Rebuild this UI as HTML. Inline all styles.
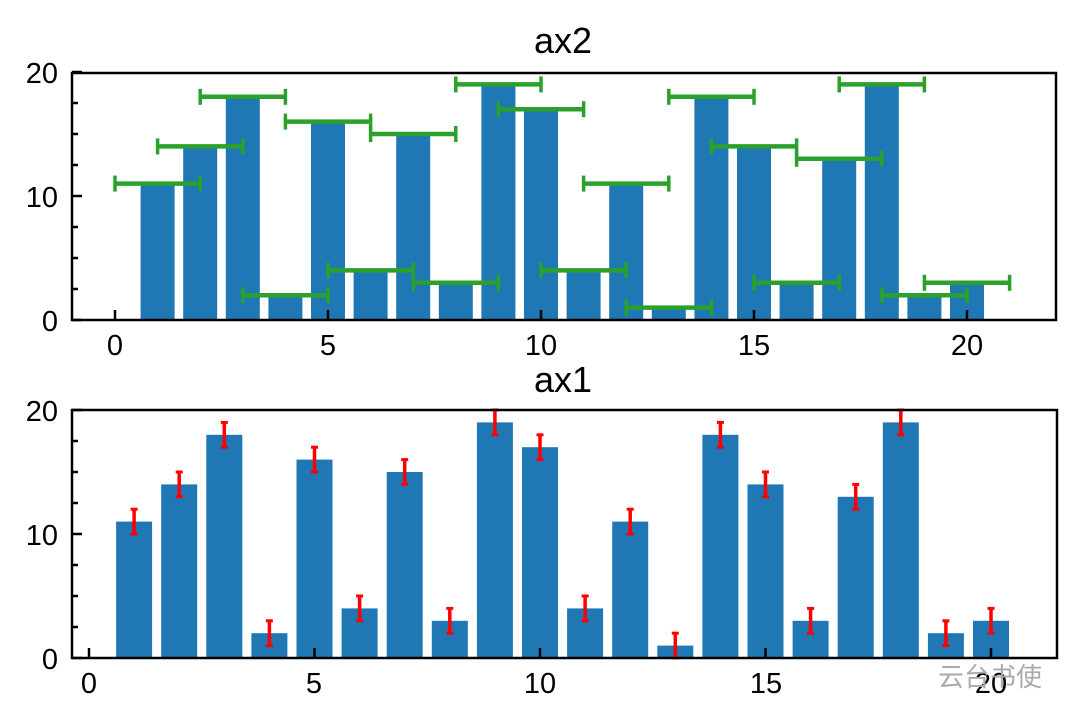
<!DOCTYPE html>
<html><head><meta charset="utf-8"><style>
html,body{margin:0;padding:0;background:#fff;}
svg text{font-family:"Liberation Sans","DejaVu Sans",sans-serif;fill:#000;}
</style></head><body>
<svg id="s" width="1080" height="722" xmlns="http://www.w3.org/2000/svg">
<g id="g"></g>
<g style="font-size:36px">
<text x="563" y="53" text-anchor="middle">ax2</text>
<text x="563" y="392" text-anchor="middle">ax1</text>
</g>
<g style="font-size:29px">
<text x="115" y="355" text-anchor="middle">0</text>
<text x="328" y="355" text-anchor="middle">5</text>
<text x="541" y="355" text-anchor="middle">10</text>
<text x="754" y="355" text-anchor="middle">15</text>
<text x="967" y="355" text-anchor="middle">20</text>
<text x="58" y="331" text-anchor="end">0</text>
<text x="58" y="207" text-anchor="end">10</text>
<text x="58" y="83" text-anchor="end">20</text>
<text x="89" y="693" text-anchor="middle">0</text>
<text x="314" y="693" text-anchor="middle">5</text>
<text x="540" y="693" text-anchor="middle">10</text>
<text x="766" y="693" text-anchor="middle">15</text>
<text x="991" y="693" text-anchor="middle">20</text>
<text x="58" y="669" text-anchor="end">0</text>
<text x="58" y="545" text-anchor="end">10</text>
<text x="58" y="421" text-anchor="end">20</text>
</g>
<text x="938" y="686" style="fill:#aaa;font-size:26px;font-family:'Liberation Sans','Noto Sans CJK SC',sans-serif">云台书使</text>
</svg>
<script>
var v=[11,14,18,2,16,4,15,3,19,17,4,11,1,18,14,3,13,19,2,3];
var h='';
function L(x1,y1,x2,y2,c,w){h+='<line x1="'+x1+'" y1="'+y1+'" x2="'+x2+'" y2="'+y2+'" stroke="'+c+'" stroke-width="'+w+'"/>';}
var tx=function(x){return 115+42.6*x}, ty=function(y){return 320-12.4*y};
v.forEach(function(y,i){var x=i+1;h+='<rect x="'+(tx(x)-17)+'" y="'+ty(y)+'" width="34" height="'+(12.4*y)+'" fill="#1f77b4"/>';});
v.forEach(function(y,i){var x=i+1;L(tx(x-1),ty(y),tx(x+1),ty(y),'#2ca02c',4.5);L(tx(x-1),ty(y)-8,tx(x-1),ty(y)+8,'#2ca02c',3.5);L(tx(x+1),ty(y)-8,tx(x+1),ty(y)+8,'#2ca02c',3.5);});
h+='<rect x="72" y="73" width="984" height="247" fill="none" stroke="#000" stroke-width="2.5"/>';
for(var i=0;i<=20;i+=5){L(tx(i),320,tx(i),310,'#000',2.5);}
for(var i=0;i<=20;i+=2.5){var len=(i%10==0)?10:6;L(72,ty(i),72+len,ty(i),'#000',2.5);}
var bx=function(x){return 89+45.1*x}, by=function(y){return 658-12.4*y};
v.forEach(function(y,i){var x=i+1;h+='<rect x="'+(bx(x)-18)+'" y="'+by(y)+'" width="36" height="'+(12.4*y)+'" fill="#1f77b4"/>';});
v.forEach(function(y,i){var x=i+1;L(bx(x),by(y+1),bx(x),by(y-1),'red',3.5);L(bx(x)-3.5,by(y+1),bx(x)+3.5,by(y+1),'red',3);L(bx(x)-3.5,by(y-1),bx(x)+3.5,by(y-1),'red',3);});
h+='<rect x="72" y="410" width="985" height="248" fill="none" stroke="#000" stroke-width="2.5"/>';
for(var i=0;i<=20;i+=5){L(bx(i),658,bx(i),648,'#000',2.5);}
for(var i=0;i<=20;i+=2.5){var len=(i%10==0)?10:6;L(72,by(i),72+len,by(i),'#000',2.5);}
document.getElementById('g').innerHTML=h;
</script>
</body></html>
